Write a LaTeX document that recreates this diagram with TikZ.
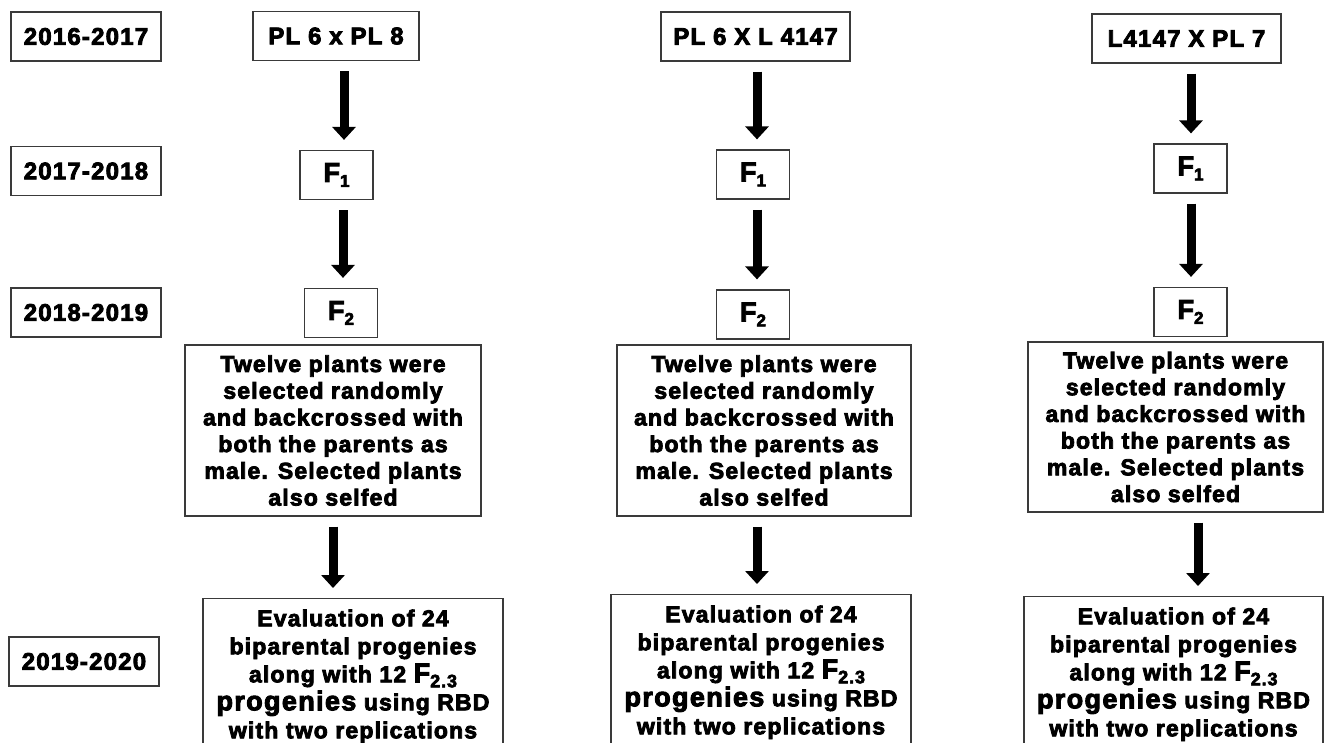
\documentclass[tikz,border=0pt]{standalone}
\usepackage{fontspec}
\setmainfont{Liberation Sans}[BoldFeatures={FakeBold=3.5,LetterSpace=5}]
\usetikzlibrary{arrows.meta}
\definecolor{boxline}{HTML}{3A3A3A}
\newcommand{\fsz}[1]{\fontsize{#1}{#1}\selectfont}
\newcommand{\Fsub}[1]{{\fsz{27}F}\raisebox{-5pt}{\fsz{17}#1}}
\begin{document}
\begin{tikzpicture}[x=1pt,y=-1pt,
  box/.style={draw=boxline, line width=1.2pt, inner sep=0pt, align=center, font=\bfseries\fsz{24}},
  yearbox/.style={box, minimum width=150pt, minimum height=49pt},
  crossbox/.style={box, minimum height=49pt},
  genbox/.style={box, minimum width=73pt, minimum height=49pt},
  selbox/.style={box, minimum height=171pt, font=\bfseries\fontsize{23}{26.7}\selectfont},
  evalbox/.style={box, anchor=north, inner ysep=11pt, font=\bfseries\fontsize{23}{28}\selectfont},
  arr/.style={line width=9pt, -{Triangle[width=23pt,length=13pt]}, shorten <=10pt, shorten >=10pt}
]
\useasboundingbox (0,0) rectangle (1325,742);
\clip (0,0) rectangle (1325,742);
\fill[white] (0,0) rectangle (1325,742);

% year boxes
\node[yearbox] (y1) at (86,36.5) {2016-2017};
\node[yearbox] (y2) at (86,171) {2017-2018};
\node[yearbox] (y3) at (86,312.5) {2018-2019};
\node[yearbox] (y4) at (84,661.5) {2019-2020};

% column 1
\node[crossbox, minimum width=166pt] (t1) at (336,36) {PL 6 x PL 8};
\node[genbox] (a1) at (336.5,175) {\Fsub{1}};
\node[genbox] (b1) at (341,313) {\Fsub{2}};
\node[selbox, minimum width=296pt] (c1) at (333,430.5) {Twelve plants were\\selected randomly\\and backcrossed with\\both the parents as\\male. Selected plants\\also selfed};
\node[evalbox, minimum width=300pt] (d1) at (353,598) {Evaluation of 24\\biparental progenies\\along with 12 {\fsz{27}F}\raisebox{-5pt}{\fsz{18}2.3}\\{\fsz{27}progenies} using RBD\\with two replications};

% column 2
\node[crossbox, minimum width=189pt] (t2) at (755.5,36.5) {PL 6 X L 4147};
\node[genbox] (a2) at (753,174.5) {\Fsub{1}};
\node[genbox] (b2) at (753,314.5) {\Fsub{2}};
\node[selbox, minimum width=294pt] (c2) at (764,430.5) {Twelve plants were\\selected randomly\\and backcrossed with\\both the parents as\\male. Selected plants\\also selfed};
\node[evalbox, minimum width=300pt] (d2) at (761,594) {Evaluation of 24\\biparental progenies\\along with 12 {\fsz{27}F}\raisebox{-5pt}{\fsz{18}2.3}\\{\fsz{27}progenies} using RBD\\with two replications};

% column 3
\node[crossbox, minimum width=189pt] (t3) at (1186.5,38.5) {L4147 X PL 7};
\node[genbox] (a3) at (1190.5,168.5) {\Fsub{1}};
\node[genbox] (b3) at (1190.5,312) {\Fsub{2}};
\node[selbox, minimum width=295pt, minimum height=170pt] (c3) at (1175.5,427) {Twelve plants were\\selected randomly\\and backcrossed with\\both the parents as\\male. Selected plants\\also selfed};
\node[evalbox, minimum width=299pt] (d3) at (1173.5,596) {Evaluation of 24\\biparental progenies\\along with 12 {\fsz{27}F}\raisebox{-5pt}{\fsz{18}2.3}\\{\fsz{27}progenies} using RBD\\with two replications};

% arrows
\draw[arr] ([xshift=8pt]t1.south) -- ([xshift=7.5pt]a1.north);
\draw[arr] ([xshift=6.5pt]a1.south) -- ([xshift=2pt]b1.north);
\draw[arr] (c1.south) -- ([xshift=-20pt]d1.north);
\draw[arr] ([xshift=1.5pt]t2.south) -- ([xshift=4pt]a2.north);
\draw[arr] ([xshift=4pt]a2.south) -- ([xshift=4pt]b2.north);
\draw[arr] ([xshift=-7pt]c2.south) -- ([xshift=-4pt]d2.north);
\draw[arr] ([xshift=4.5pt]t3.south) -- ([xshift=0.5pt]a3.north);
\draw[arr] ([xshift=0.5pt]a3.south) -- ([xshift=0.5pt]b3.north);
\draw[arr] ([xshift=22.5pt]c3.south) -- ([xshift=24.5pt]d3.north);
\end{tikzpicture}
\end{document}
